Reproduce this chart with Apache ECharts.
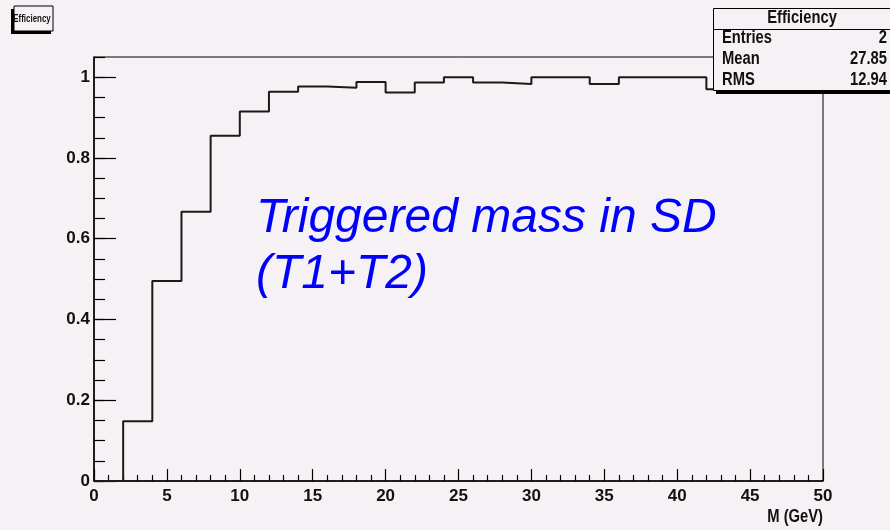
<!DOCTYPE html>
<html>
<head>
<meta charset="utf-8">
<script src="https://cdn.jsdelivr.net/npm/echarts@6/dist/echarts.min.js"></script>
<style>
html,body{margin:0;padding:0;background:#f5f1f5;}
#c{width:890px;height:530px;}
</style>
</head>
<body>
<div id="c"></div>
<script>
// ---- data ----
const binEdges = [0,2,4,6,8,10,12,14,16,18,20,22,24,26,28,30,32,34,36,38,40,42,44,46,48];
const efficiency = [0, 0.148, 0.495, 0.667, 0.855, 0.915, 0.964, 0.977, 0.974, 0.988, 0.962, 0.987, 1.0, 0.987, 0.983, 1.0, 1.0, 0.983, 1.0, 1.0, 1.0, 0.97, 1.0, 1.0, 1.0];
const xMax = 50;
const xTicks = [0,5,10,15,20,25,30,35,40,45,50];
const yTicks = [0,0.2,0.4,0.6,0.8,1];
const statsTitle = 'Efficiency';
const statsLabels = ['Entries', 'Mean', 'RMS'];
const statsValues = ['2', '27.85', '12.94'];
const annotation = ['Triggered mass in SD', '(T1+T2)'];
const xName = 'M (GeV)';
const histTitle = 'Efficiency';

const SANS = "'Liberation Sans',Arial,Helvetica,sans-serif";
const BG = '#f5f1f5';

const stepData = binEdges.map((x, i) => [x, efficiency[i]]);
stepData.push([xMax, efficiency[efficiency.length - 1]]);

const chart = echarts.init(document.getElementById('c'), null, {renderer: 'canvas'});
const labelStyle = {color: '#111', fontFamily: SANS, fontWeight: 'bold', fontSize: 17};

function narrowText(x, y, text, align, size, sx) {
  return {type: 'text', z: 102, x: x, y: y, scaleX: sx || 0.82,
    style: {text: text, fill: '#111', font: 'bold ' + (size || 18) + 'px ' + SANS, align: align, verticalAlign: 'middle'}};
}

const option = {
  backgroundColor: BG,
  animation: false,
  grid: {left: 94, right: 67, top: 57, bottom: 49, show: true, borderColor: '#000', borderWidth: 1, backgroundColor: 'transparent', containLabel: false},
  xAxis: {
    type: 'value', min: xTicks[0], max: xTicks[xTicks.length - 1], interval: xTicks[1] - xTicks[0],
    axisLine: {show: true, onZero: false, lineStyle: {color: '#000', width: 1.5}},
    axisTick: {show: true, inside: true, length: 12, lineStyle: {color: '#000', width: 1.2}},
    minorTick: {show: true, splitNumber: 5, length: 6, lineStyle: {color: '#000', width: 1.2}},
    splitLine: {show: false}, minorSplitLine: {show: false},
    axisLabel: Object.assign({margin: 7}, labelStyle)
  },
  yAxis: [{
    type: 'value', min: 0, max: 1.05, interval: 0.05, position: 'left',
    axisLine: {show: true, onZero: false, lineStyle: {color: '#000', width: 1.5}},
    axisTick: {show: true, inside: true, length: 11, lineStyle: {color: '#000', width: 1.2}},
    axisLabel: {show: false},
    splitLine: {show: false}
  }, {
    type: 'value', min: 0, max: 1.05, interval: yTicks[1] - yTicks[0], position: 'left', offset: 0,
    axisLine: {show: false},
    axisTick: {show: true, inside: true, length: 22, lineStyle: {color: '#000', width: 1.2}},
    axisLabel: Object.assign({margin: 4, showMaxLabel: false, formatter: v => String(Math.round(v * 10) / 10)}, labelStyle),
    splitLine: {show: false}
  }],
  series: [{
    type: 'line', step: 'end', data: stepData, yAxisIndex: 0, symbol: 'none',
    lineStyle: {color: '#1a1a1a', width: 2}, z: 3
  }],
  graphic: [
    // title box top-left
    {type: 'rect', z: 100, shape: {x: 11, y: 9, width: 40, height: 25}, style: {fill: '#000'}},
    {type: 'rect', z: 101, shape: {x: 14, y: 6, width: 39, height: 25}, style: {fill: BG, stroke: '#000', lineWidth: 1}},
    narrowText(32, 19, histTitle, 'center', 11, 0.72),
    // stats box
    {type: 'rect', z: 100, shape: {x: 716, y: 11, width: 200, height: 83}, style: {fill: '#000'}},
    {type: 'rect', z: 101, shape: {x: 713.5, y: 8.5, width: 200, height: 82}, style: {fill: BG, stroke: '#000', lineWidth: 1}},
    {type: 'line', z: 102, shape: {x1: 713.5, y1: 29.5, x2: 890, y2: 29.5}, style: {stroke: '#000', lineWidth: 1}},
    narrowText(802, 18, statsTitle, 'center'),
    narrowText(722, 38, statsLabels[0], 'left'),
    narrowText(722, 59, statsLabels[1], 'left'),
    narrowText(722, 80, statsLabels[2], 'left'),
    narrowText(887, 38, statsValues[0], 'right'),
    narrowText(887, 59, statsValues[1], 'right'),
    narrowText(887, 80, statsValues[2], 'right'),
    // axis title
    narrowText(823, 517, xName, 'right'),
    // annotation
    {type: 'text', z: 102, x: 256, y: 219, style: {text: annotation[0], fill: '#0000ff', font: "italic 48px " + SANS, align: 'left', verticalAlign: 'middle'}},
    {type: 'text', z: 102, x: 256, y: 275, style: {text: annotation[1], fill: '#0000ff', font: "italic 48px " + SANS, align: 'left', verticalAlign: 'middle'}}
  ]
};
chart.setOption(option);
</script>
</body>
</html>
